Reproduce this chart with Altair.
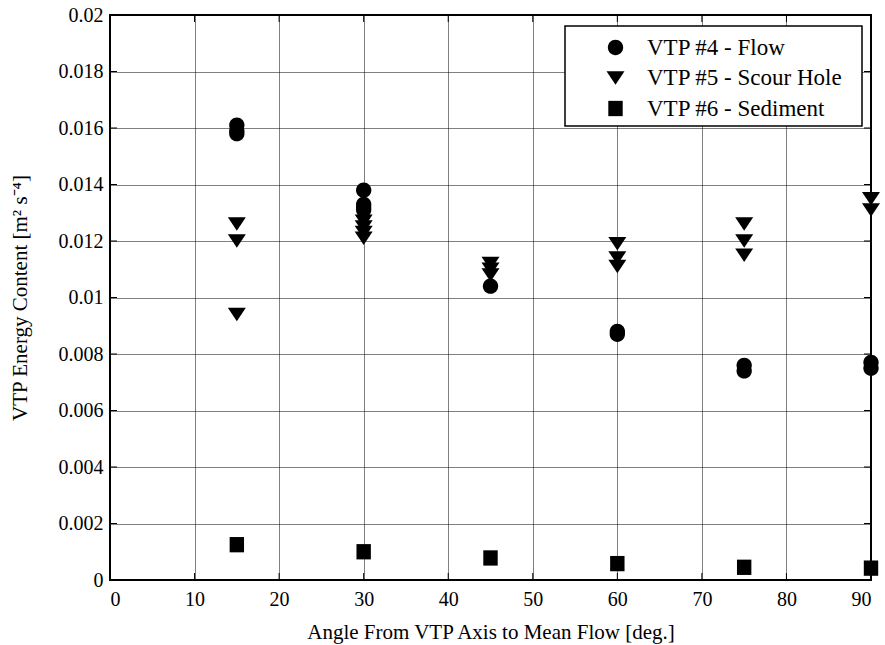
import altair as alt
import pandas as pd

# ---- data -------------------------------------------------------------
series_names = ["VTP #4 - Flow", "VTP #5 - Scour Hole", "VTP #6 - Sediment"]

flow_angle = [15, 15, 15, 30, 30, 30, 30, 45, 60, 60, 75, 75, 90, 90]
flow_energy = [0.0161, 0.0159, 0.0158, 0.0138, 0.0133, 0.0132, 0.0131,
               0.0104, 0.0088, 0.0087, 0.0076, 0.0074, 0.0077, 0.0075]

scour_angle = [15, 15, 15, 30, 30, 30, 30, 45, 45, 45, 60, 60, 60, 75, 75, 75, 90, 90]
scour_energy = [0.0126, 0.0120, 0.0094, 0.0127, 0.0125, 0.0123, 0.0121,
                0.0112, 0.0110, 0.0108, 0.0119, 0.0114, 0.0111,
                0.0126, 0.0120, 0.0115, 0.0135, 0.0131]

sediment_angle = [15, 30, 45, 60, 75, 90]
sediment_energy = [0.00125, 0.00100, 0.00078, 0.00058, 0.00045, 0.00042]

x_ticks = [0, 10, 20, 30, 40, 50, 60, 70, 80, 90]
y_ticks = [0, 0.002, 0.004, 0.006, 0.008, 0.01, 0.012, 0.014, 0.016, 0.018, 0.02]

# ---- table ------------------------------------------------------------
df = pd.concat([
    pd.DataFrame({"angle": flow_angle, "energy": flow_energy, "series": series_names[0]}),
    pd.DataFrame({"angle": scour_angle, "energy": scour_energy, "series": series_names[1]}),
    pd.DataFrame({"angle": sediment_angle, "energy": sediment_energy, "series": series_names[2]}),
], ignore_index=True)

# ---- styling ----------------------------------------------------------
W, H = 761, 565
FONT = "Liberation Serif"
TICK_LEN = 7

circle_path = "M-0.85,0A0.85,0.85,0,1,1,0.85,0A0.85,0.85,0,1,1,-0.85,0Z"
tri_path = "M-1,-0.75L1,-0.75L0,0.75Z"
square_path = "M-0.8,-0.85L0.8,-0.85L0.8,0.85L-0.8,0.85Z"

x_scale = alt.Scale(domain=[0, 90], nice=False, zero=False)
y_scale = alt.Scale(domain=[0, 0.02], nice=False, zero=False)

x_axis = alt.Axis(
    values=x_ticks, title="Angle From VTP Axis to Mean Flow [deg.]",
    grid=True, ticks=False, tickSize=0, domain=False,
    labelFont=FONT, labelFontSize=20, labelColor="black", labelPadding=9,
    titleFont=FONT, titleFontSize=21, titleFontWeight="normal", titleColor="black",
    titleX=W / 2, titleY=52, titleAlign="center", titleBaseline="middle",
)
y_axis = alt.Axis(
    values=y_ticks, format="~g", title="VTP Energy Content [m\u00b2 s\u207b\u2074]",
    grid=True, ticks=False, tickSize=0, domain=False,
    labelFont=FONT, labelFontSize=20, labelColor="black", labelPadding=7,
    titleFont=FONT, titleFontSize=21, titleFontWeight="normal", titleColor="black",
    titleX=-90, titleY=H / 2, titleAlign="center", titleBaseline="middle",
)

# white legend frame
legend_box = alt.Chart(pd.DataFrame({"k": [0]})).mark_rect(
    fill="white", stroke="black", strokeWidth=1.5
).encode(
    x=alt.value(455), x2=alt.value(752), y=alt.value(11), y2=alt.value(111)
)

points = alt.Chart(df).mark_point(
    filled=True, color="black", strokeWidth=0, opacity=1, size=324
).encode(
    x=alt.X("angle:Q", scale=x_scale, axis=x_axis),
    y=alt.Y("energy:Q", scale=y_scale, axis=y_axis),
    shape=alt.Shape(
        "series:N",
        scale=alt.Scale(domain=series_names, range=[circle_path, tri_path, square_path]),
        legend=alt.Legend(
            title=None, orient="none", legendX=494, legendY=21,
            padding=0, rowPadding=6.5, symbolSize=324, symbolOffset=0,
            symbolFillColor="black", symbolStrokeColor="black", symbolStrokeWidth=0,
            labelFont=FONT, labelFontSize=23, labelColor="black", labelOffset=20,
            labelLimit=400,
        ),
    ),
)

# inward tick marks on all four sides
xt = pd.DataFrame({"t": x_ticks})
yt = pd.DataFrame({"t": y_ticks})
tick_x_bottom = alt.Chart(xt).mark_rule(color="black", strokeWidth=1).encode(
    x=alt.X("t:Q", scale=x_scale), y=alt.value(H), y2=alt.value(H - TICK_LEN))
tick_x_top = alt.Chart(xt).mark_rule(color="black", strokeWidth=1).encode(
    x=alt.X("t:Q", scale=x_scale), y=alt.value(0), y2=alt.value(TICK_LEN))
tick_y_left = alt.Chart(yt).mark_rule(color="black", strokeWidth=1).encode(
    y=alt.Y("t:Q", scale=y_scale), x=alt.value(0), x2=alt.value(TICK_LEN))
tick_y_right = alt.Chart(yt).mark_rule(color="black", strokeWidth=1).encode(
    y=alt.Y("t:Q", scale=y_scale), x=alt.value(W), x2=alt.value(W - TICK_LEN))

chart = alt.layer(
    tick_x_bottom, tick_x_top, tick_y_left, tick_y_right, legend_box, points
).properties(
    width=W, height=H,
    padding={"left": 110, "top": 15, "right": 14, "bottom": 65},
    autosize=alt.AutoSizeParams(type="none"),
    background="white",
).configure_view(
    stroke="black", strokeWidth=2
).configure_axis(
    gridColor="black", gridOpacity=1, gridWidth=1, gridDash=[1, 1]
)

chart.save("out.html", embed_options={"renderer": "svg", "actions": False})
